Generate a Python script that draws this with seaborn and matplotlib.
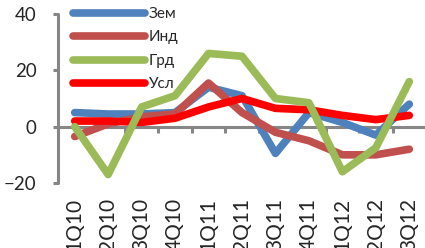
import matplotlib
matplotlib.use("Agg")
import matplotlib.pyplot as plt
import seaborn as sns
import pandas as pd

quarters = ["1Q10", "2Q10", "3Q10", "4Q10", "1Q11", "2Q11", "3Q11", "4Q11", "1Q12", "2Q12", "3Q12"]
zem = [5, 4.5, 4.5, 5, 14, 11, -9.5, 5, 1.5, -3, 8]
ind = [-3.5, 1, 3.5, 4.5, 15.5, 5, -2, -5, -10, -10, -8]
grd = [0, -17, 7, 11, 26, 25, 10, 8.5, -16, -7.5, 16]
usl = [2, 2, 1.5, 3, 7, 10, 6.5, 6, 4, 2.5, 4]

names = ["Зем", "Инд", "Грд", "Усл"]
values = [zem, ind, grd, usl]
colors = ["#4F81BD", "#C0504D", "#9BBB59", "#FF0000"]
zorders = [3, 4, 6, 5]

sns.set_style("white")
plt.rcParams["font.family"] = ["Lato", "DejaVu Sans"]

fig = plt.figure(figsize=(4.25, 2.48), dpi=100)
ax = fig.add_axes([58 / 425, (248 - 183) / 248, 368 / 425, 169 / 248])

for name, vals, col, z in zip(names, values, colors, zorders):
    df = pd.DataFrame({"q": quarters, "v": vals})
    sns.lineplot(data=df, x="q", y="v", ax=ax, color=col, linewidth=5.5,
                 label=name, sort=False, zorder=z,
                 solid_capstyle="round", solid_joinstyle="round")

ax.set_xlim(-0.5, len(quarters) - 0.5)
ax.set_ylim(-20, 40)
ax.set_yticks([-20, 0, 20, 40])
ax.set_xlabel("")
ax.set_ylabel("")

gray = "#868686"
for s in ["top", "right", "bottom"]:
    ax.spines[s].set_visible(False)
ax.spines["left"].set_color(gray)
ax.spines["left"].set_linewidth(2.2)
ax.spines["left"].set_capstyle("round")

ax.tick_params(axis="y", which="major", length=3.5, width=2.2, color=gray,
               labelsize=13.5, pad=12, direction="out", left=True)
ax.tick_params(axis="x", which="major", length=0, labelsize=15, pad=11,
               labelrotation=90)

# category axis at y = 0
sec = ax.secondary_xaxis(1 / 3)
sec.spines["bottom"].set_color(gray)
sec.spines["bottom"].set_linewidth(2.2)
sec.set_xticks([i - 0.5 for i in range(len(quarters) + 1)])
sec.set_xticklabels([])
sec.tick_params(axis="x", length=4.5, width=2.2, color=gray, direction="out")

leg = ax.legend(loc="upper left", bbox_to_anchor=(73 / 425, 1 - 7 / 248),
                bbox_transform=fig.transFigure, frameon=False, fontsize=11,
                handlelength=4.7, handletextpad=0.25, labelspacing=0.62,
                borderpad=0, borderaxespad=0)
for line in leg.get_lines():
    line.set_linewidth(5.5)
    line.set_solid_capstyle("round")

fig.savefig("out.png", dpi=100)
